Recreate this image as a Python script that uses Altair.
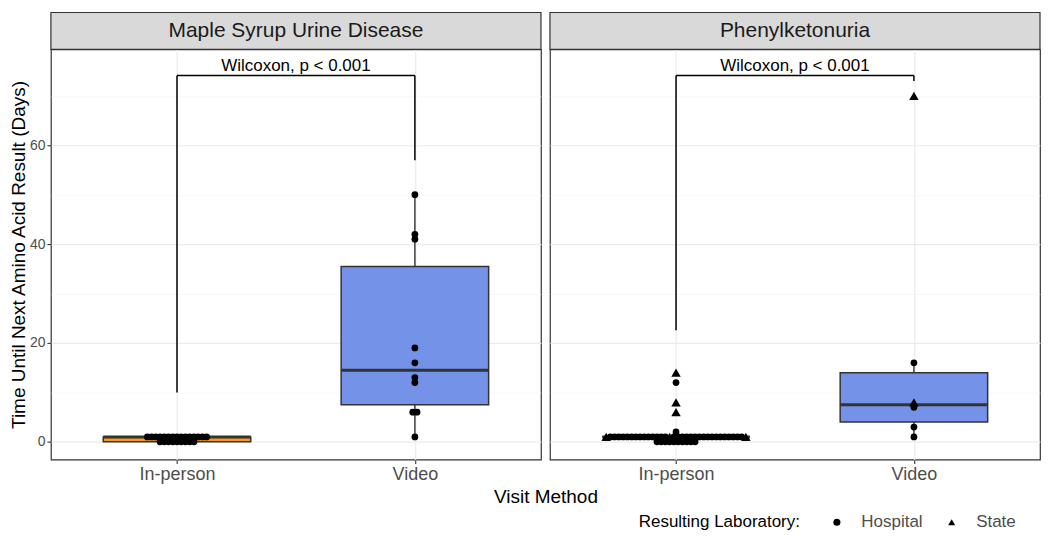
import altair as alt
import pandas as pd

# ---------------- data ----------------
panels = ["Maple Syrup Urine Disease", "Phenylketonuria"]
methods = ["In-person", "Video"]
labs = ["Hospital", "State"]
lab_codes = {"H": "Hospital", "S": "State"}
y_title = "Time Until Next Amino Acid Result (Days)"
x_title = "Visit Method"
legend_title = "Resulting Laboratory:"

msud_inperson_values = [1, 1, 1, 1, 1, 1, 1, 1, 1, 1, 1, 1, 1, 1, 1,
                        0, 0, 0, 0, 0, 0, 0, 0, 0]
msud_inperson_labs = "HHHHHHHHHHHHHHHHHHHHHHHH"

msud_video_values = [50, 42, 41, 19, 16, 13, 12, 6, 6, 1]
msud_video_labs = "HHHHHHHHHH"

pku_inperson_values = [14, 12, 8, 6, 2,
                       1, 1, 1, 1, 1, 1, 1, 1, 1, 1, 1, 1, 1, 1, 1, 1, 1,
                       1, 1, 1, 1, 1, 1, 1, 1, 1, 1, 1, 1, 1, 1, 1, 1, 1,
                       0, 0, 0, 0, 0, 0, 0, 0, 0, 0]
pku_inperson_labs = ("SHSSH"
                     "SHHHHHHHHHHHHHHSHHHHHHHHHHHHHHHHHS"
                     "HHHHHHHHHH")

pku_video_values = [70, 16, 8, 7, 3, 1]
pku_video_labs = "SHSHHH"

bracket_top = [74.1, 74.1]
bracket_left_end = [10, 22.6]
bracket_right_end = [57, 73]
test_labels = ["Wilcoxon, p < 0.001", "Wilcoxon, p < 0.001"]

box_colors = ["#F39C1E", "#7493E8"]

# ---------------- tables ----------------
groups = [
    (panels[0], methods[0], msud_inperson_values, msud_inperson_labs),
    (panels[0], methods[1], msud_video_values, msud_video_labs),
    (panels[1], methods[0], pku_inperson_values, pku_inperson_labs),
    (panels[1], methods[1], pku_video_values, pku_video_labs),
]
rows = []
for p, m, vals, lb in groups:
    assert len(vals) == len(lb)
    for i, (v, c) in enumerate(zip(vals, lb)):
        rows.append({"panel": p, "method": m, "value": v, "lab": lab_codes[c], "order": i})
points_df = pd.DataFrame(rows)

bracket_df = pd.DataFrame({
    "panel": panels,
    "top": bracket_top,
    "lend": bracket_left_end,
    "rend": bracket_right_end,
    "label": test_labels,
})

POS = f"datum.method == '{methods[0]}' ? 1 : 2"
HALF = 0.31
STEP = 0.0178
W_L, W_R, H = 491, 491, 411
DARK = "#333333"

xscale = alt.Scale(domain=[0.47, 2.53], nice=False, zero=False)
yscale = alt.Scale(domain=[-3.6, 79.4], nice=False, zero=False)
shape_scale = alt.Scale(domain=labs, range=["circle", "triangle-up"])
shape_legend = alt.Legend(title=legend_title, orient="none",
                          legendX=589, legendY=465,
                          direction="horizontal", titleOrient="left",
                          titleFontSize=17, titleFontWeight="normal",
                          titleColor="black", titlePadding=28,
                          labelFontSize=17, labelColor="#4D4D4D",
                          labelOffset=16, columnPadding=20,
                          symbolSize=50, symbolFillColor="black",
                          symbolStrokeColor="black", symbolStrokeWidth=0)

major = "datum.value % 20 === 0"
xaxis = alt.Axis(values=[1, 2], title=None, domain=False,
                 labelExpr=f"datum.value == 1 ? '{methods[0]}' : '{methods[1]}'",
                 labelFontSize=18, labelColor="#4D4D4D", labelPadding=2,
                 tickSize=4, tickColor=DARK, tickWidth=1.1,
                 grid=True, gridColor="#EBEBEB", gridWidth=1.2)


def yaxis(show):
    common = dict(values=[0, 10, 20, 30, 40, 50, 60, 70], domain=False, grid=True,
                  gridColor={"condition": {"test": major, "value": "#EBEBEB"}, "value": "#F3F3F3"},
                  gridWidth={"condition": {"test": major, "value": 1.2}, "value": 0.6})
    if show:
        return alt.Axis(title=y_title, titleFontSize=19, titleFontWeight="normal",
                        titleColor="black", titlePadding=1,
                        labelExpr=f"{major} ? datum.label : ''",
                        labelFontSize=14, labelColor="#4D4D4D", labelPadding=2,
                        tickSize=4, tickWidth=1.1,
                        tickColor={"condition": {"test": major, "value": DARK}, "value": "transparent"},
                        **common)
    return alt.Axis(title=None, labels=False, ticks=False, **common)


def panel_chart(panel, width, show_y, extras=()):
    ya = yaxis(show_y)

    def X(f):
        return alt.X(f, scale=xscale, axis=xaxis)

    def Y(f):
        return alt.Y(f, scale=yscale, axis=ya)

    stats = (
        alt.Chart(points_df)
        .transform_filter(alt.datum.panel == panel)
        .transform_joinaggregate(q1="q1(value)", q3="q3(value)", med="median(value)",
                                 groupby=["method"])
        .transform_calculate(lof="datum.q1 - 1.5*(datum.q3-datum.q1)",
                             hif="datum.q3 + 1.5*(datum.q3-datum.q1)")
        .transform_filter("datum.value >= datum.lof && datum.value <= datum.hif")
        .transform_aggregate(lo="min(value)", hi="max(value)", q1="min(q1)",
                             q3="min(q3)", med="min(med)", groupby=["method"])
        .transform_calculate(pos=POS, xl=f"datum.pos - {HALF}", xr=f"datum.pos + {HALF}")
    )
    wlow = stats.mark_rule(color=DARK, strokeWidth=1.4).encode(
        x=X("pos:Q"), y=Y("lo:Q"), y2="q1:Q")
    whigh = stats.mark_rule(color=DARK, strokeWidth=1.4).encode(
        x=X("pos:Q"), y=Y("q3:Q"), y2="hi:Q")
    box = stats.mark_rect(stroke=DARK, strokeWidth=1.5).encode(
        x=X("xl:Q"), x2="xr:Q", y=Y("q1:Q"), y2="q3:Q",
        fill=alt.Fill("method:N", scale=alt.Scale(domain=methods, range=box_colors), legend=None))
    med = stats.mark_rule(color=DARK, strokeWidth=3).encode(
        x=X("xl:Q"), x2="xr:Q", y=Y("med:Q"))

    pts_base = (
        alt.Chart(points_df)
        .transform_filter(alt.datum.panel == panel)
        .transform_calculate(pos=POS)
        .transform_window(rk="row_number()", groupby=["method", "value"],
                          sort=[alt.SortField("order")])
        .transform_joinaggregate(n="count()", groupby=["method", "value"])
        .transform_calculate(px=f"datum.pos + (datum.rk - (datum.n + 1) / 2) * {STEP}")
    )
    enc = dict(x=X("px:Q"), y=Y("value:Q"),
               shape=alt.Shape("lab:N", scale=shape_scale, legend=shape_legend))
    pts_h = pts_base.transform_filter(alt.datum.lab == labs[0]).mark_point(
        filled=True, color="black", opacity=1, size=46).encode(**enc)
    pts_s = pts_base.transform_filter(alt.datum.lab == labs[1]).mark_point(
        filled=True, color="black", opacity=1, size=90).encode(**enc)

    br = (
        alt.Chart(bracket_df)
        .transform_filter(alt.datum.panel == panel)
        .transform_calculate(x1="1", x2="2", xm="1.5")
    )
    leg_l = br.mark_rule(color="black", strokeWidth=1.5).encode(x=X("x1:Q"), y=Y("lend:Q"), y2="top:Q")
    leg_r = br.mark_rule(color="black", strokeWidth=1.5).encode(x=X("x2:Q"), y=Y("rend:Q"), y2="top:Q")
    bar = br.mark_rule(color="black", strokeWidth=1.5).encode(x=X("x1:Q"), x2="x2:Q", y=Y("top:Q"))
    txt = br.mark_text(fontSize=17, baseline="bottom", dy=-1, color="black").encode(
        x=X("xm:Q"), y=Y("top:Q"), text="label:N")

    strip_df = pd.DataFrame({"panel": [panel]})
    strip = alt.Chart(strip_df).mark_rect(fill="#D9D9D9", stroke=DARK, strokeWidth=1.2).encode(
        x=alt.value(0), x2=alt.value(width), y=alt.value(-37), y2=alt.value(0))
    strip_txt = alt.Chart(strip_df).mark_text(fontSize=21, color="#1A1A1A", baseline="middle").encode(
        x=alt.value(width / 2), y=alt.value(-18), text="panel:N")

    layers = [wlow, whigh, box, med, pts_h, pts_s, leg_l, leg_r, bar, txt, strip, strip_txt] + list(extras)
    return alt.layer(*layers).properties(width=width, height=H)


xt = alt.Chart(pd.DataFrame({"t": [x_title]})).mark_text(
    fontSize=19, color="black", baseline="middle").encode(
    x=alt.value(496), y=alt.value(448), text="t:N")

left = panel_chart(panels[0], W_L, True, extras=[xt])
right = panel_chart(panels[1], W_R, False)

chart = (
    alt.hconcat(left, right, spacing=9, bounds="flush")
    .resolve_scale(shape="shared")
    .resolve_legend(shape="shared")
    .properties(padding={"left": 0, "top": 2, "right": 0, "bottom": 0}, background="white")
    .configure(font="Liberation Sans")
    .configure_view(stroke=DARK, strokeWidth=1.2)
)

chart.save("out.html", embed_options={"renderer": "svg", "actions": False})
